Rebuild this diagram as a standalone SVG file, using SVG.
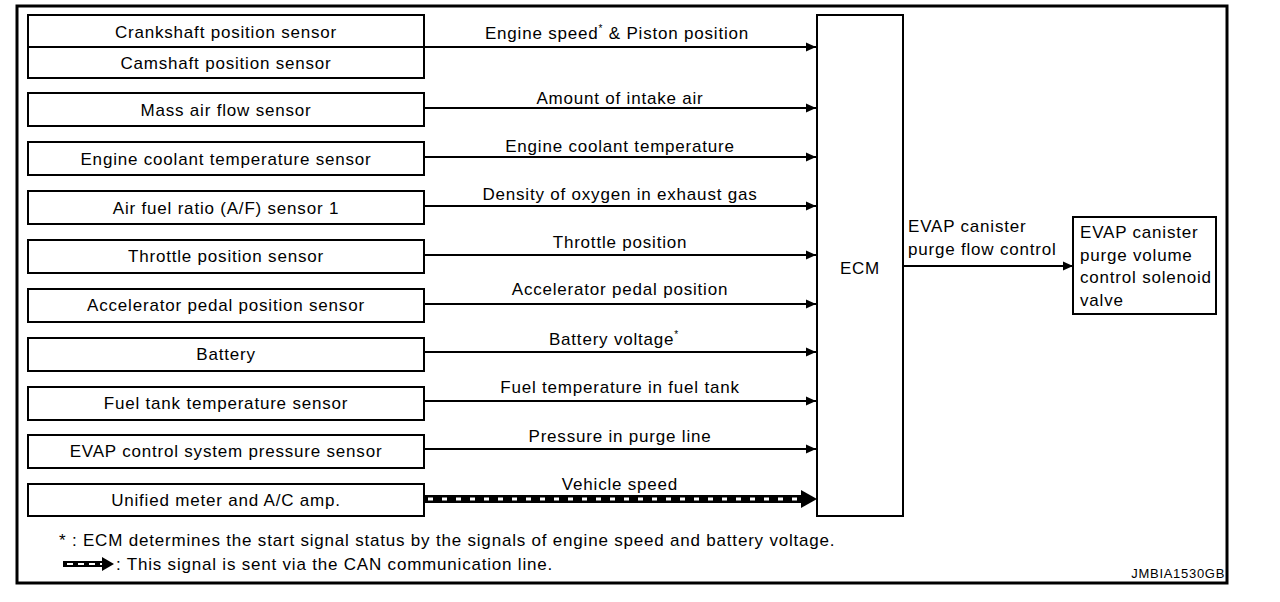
<svg xmlns="http://www.w3.org/2000/svg" width="1280" height="602" viewBox="0 0 1280 602">
<style>
text{font-family:"Liberation Sans",Arial,sans-serif;font-size:17px;letter-spacing:0.8px;fill:#000}
.c{text-anchor:middle}
.box{fill:#fff;stroke:#000;stroke-width:2}
.ln{stroke:#000;stroke-width:2;fill:none}
.sup{font-size:10px}
</style>
<defs>
<marker id="ah" viewBox="0 0 10 10" refX="10" refY="5" markerWidth="10" markerHeight="10" markerUnits="userSpaceOnUse" orient="auto">
<path d="M0,0.5 L10,5 L0,9.5 Z" fill="#000"/>
</marker>
</defs>
<rect x="0" y="0" width="1280" height="602" fill="#fff"/>
<rect x="17" y="6" width="1210" height="577" fill="none" stroke="#000" stroke-width="3"/>

<g id="crank-cam">
<rect class="box" x="28" y="15" width="396" height="63"/>
<line class="ln" x1="28" y1="47" x2="424" y2="47"/>
<text class="c" x="226" y="38">Crankshaft position sensor</text>
<text class="c" x="226" y="69">Camshaft position sensor</text>
</g>
<g id="maf"><rect class="box" x="28" y="93" width="396" height="33"/><text class="c" x="226" y="116">Mass air flow sensor</text></g>
<g id="ect"><rect class="box" x="28" y="142" width="396" height="33"/><text class="c" x="226" y="165">Engine coolant temperature sensor</text></g>
<g id="af"><rect class="box" x="28" y="191" width="396" height="33"/><text class="c" x="226" y="214">Air fuel ratio (A/F) sensor 1</text></g>
<g id="tps"><rect class="box" x="28" y="240" width="396" height="33"/><text class="c" x="226" y="262">Throttle position sensor</text></g>
<g id="app"><rect class="box" x="28" y="289" width="396" height="33"/><text class="c" x="226" y="311">Accelerator pedal position sensor</text></g>
<g id="battery"><rect class="box" x="28" y="338" width="396" height="33"/><text class="c" x="226" y="360">Battery</text></g>
<g id="ftt"><rect class="box" x="28" y="387" width="396" height="33"/><text class="c" x="226" y="409">Fuel tank temperature sensor</text></g>
<g id="evap-ps"><rect class="box" x="28" y="435" width="396" height="33"/><text class="c" x="226" y="457">EVAP control system pressure sensor</text></g>
<g id="meter"><rect class="box" x="28" y="484" width="396" height="32"/><text class="c" x="226" y="506">Unified meter and A/C amp.</text></g>

<g id="ecm"><rect class="box" x="817" y="15" width="86" height="501"/><text class="c" x="860" y="274">ECM</text></g>

<g id="solenoid">
<rect class="box" x="1073" y="217" width="143" height="97"/>
<text x="1080" y="238">EVAP canister</text>
<text x="1080" y="261">purge volume</text>
<text x="1080" y="283">control solenoid</text>
<text x="1080" y="306">valve</text>
</g>

<g id="connectors">
<line class="ln" x1="424" y1="47" x2="816" y2="47" marker-end="url(#ah)"/>
<line class="ln" x1="424" y1="108" x2="816" y2="108" marker-end="url(#ah)"/>
<line class="ln" x1="424" y1="157" x2="816" y2="157" stroke-width="1.5" marker-end="url(#ah)"/>
<line class="ln" x1="424" y1="206" x2="816" y2="206" stroke-width="2.5" marker-end="url(#ah)"/>
<line class="ln" x1="424" y1="255" x2="816" y2="255" marker-end="url(#ah)"/>
<line class="ln" x1="424" y1="304" x2="816" y2="304" marker-end="url(#ah)"/>
<line class="ln" x1="424" y1="352" x2="816" y2="352" marker-end="url(#ah)"/>
<line class="ln" x1="424" y1="401" x2="816" y2="401" stroke-width="1.2" marker-end="url(#ah)"/>
<line class="ln" x1="424" y1="449" x2="816" y2="449" marker-end="url(#ah)"/>
<g id="can-line">
<line x1="424" y1="499" x2="806" y2="499" stroke="#000" stroke-width="8"/>
<line x1="428" y1="499" x2="804" y2="499" stroke="#fff" stroke-width="3" stroke-dasharray="5 9"/>
<path d="M801,490 L817,499 L801,508 Z" fill="#000"/>
</g>
<line class="ln" x1="903" y1="266" x2="1073" y2="266" marker-end="url(#ah)"/>
</g>

<g id="labels">
<text class="c" x="617" y="39">Engine speed<tspan class="sup" dy="-7">*</tspan><tspan dy="7"> &amp; Piston position</tspan></text>
<text class="c" x="620" y="104">Amount of intake air</text>
<text class="c" x="620" y="152">Engine coolant temperature</text>
<text class="c" x="620" y="200">Density of oxygen in exhaust gas</text>
<text class="c" x="620" y="248">Throttle position</text>
<text class="c" x="620" y="295">Accelerator pedal position</text>
<text class="c" x="614" y="345">Battery voltage<tspan class="sup" dy="-7">*</tspan></text>
<text class="c" x="620" y="393">Fuel temperature in fuel tank</text>
<text class="c" x="620" y="442">Pressure in purge line</text>
<text class="c" x="620" y="490">Vehicle speed</text>
<text x="908" y="232">EVAP canister</text>
<text x="908" y="255">purge flow control</text>
</g>

<g id="notes">
<text x="59" y="546">* : ECM determines the start signal status by the signals of engine speed and battery voltage.</text>
<line x1="63" y1="564" x2="104" y2="564" stroke="#000" stroke-width="6"/>
<line x1="67" y1="564" x2="102" y2="564" stroke="#fff" stroke-width="2" stroke-dasharray="6 5"/>
<path d="M102,557 L114,564 L102,571 Z" fill="#000"/>
<text x="116" y="570">: This signal is sent via the CAN communication line.</text>
<text x="1225" y="578" text-anchor="end" style="font-size:13px;letter-spacing:0.7px">JMBIA1530GB</text>
</g>
</svg>
